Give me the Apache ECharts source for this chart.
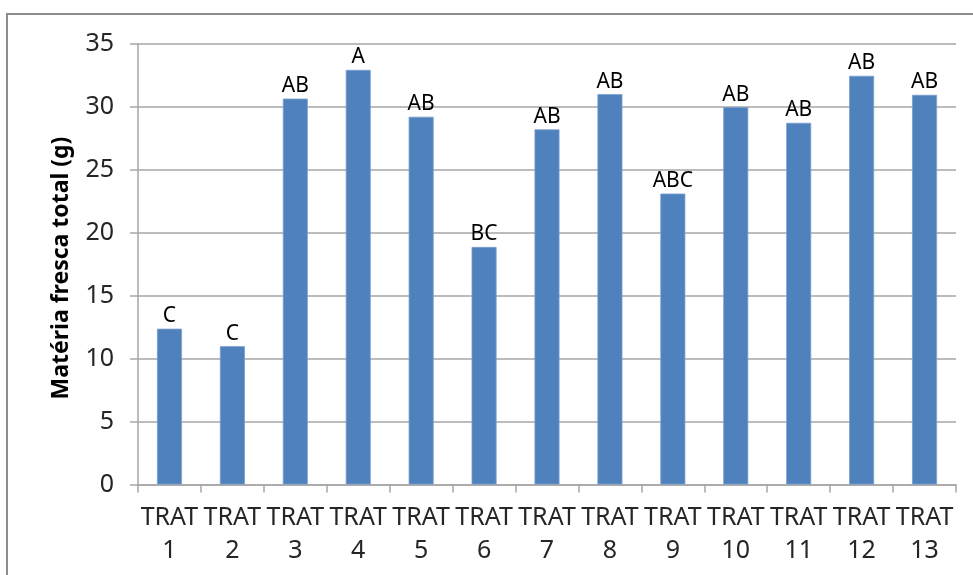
<!DOCTYPE html>
<html>
<head>
<meta charset="utf-8">
<script src="https://cdn.jsdelivr.net/npm/echarts@6/dist/echarts.min.js"></script>
<style>
html,body{margin:0;padding:0;background:#fff;}
#chart{width:973px;height:575px;}
</style>
</head>
<body>
<div id="chart"></div>
<script>
const categories = ['TRAT\n1','TRAT\n2','TRAT\n3','TRAT\n4','TRAT\n5','TRAT\n6','TRAT\n7','TRAT\n8','TRAT\n9','TRAT\n10','TRAT\n11','TRAT\n12','TRAT\n13'];
const values = [12.37, 10.98, 30.64, 32.92, 29.2, 18.86, 28.2, 31.0, 23.1, 29.96, 28.72, 32.45, 30.94];
const letters = ['C','C','AB','A','AB','BC','AB','AB','ABC','AB','AB','AB','AB'];
const yTitle = 'Matéria fresca total (g)';

const chart = echarts.init(document.getElementById('chart'), null, {renderer:'canvas'});
const font = '"Noto Sans", "Open Sans", sans-serif';
chart.setOption({
  animation: false,
  backgroundColor: '#ffffff',
  grid: {left: 138, right: 17, top: 43.7, bottom: 90.5, containLabel: false},
  xAxis: {
    type: 'category',
    data: categories,
    axisLine: {show: true, lineStyle: {color: '#a6a6a6', width: 1.5}},
    axisTick: {show: true, length: 8, lineStyle: {color: '#a6a6a6', width: 1.5}},
    axisLabel: {color: '#262626', fontSize: 25, fontFamily: font, lineHeight: 33, margin: 17, interval: 0}
  },
  yAxis: {
    type: 'value',
    min: 0, max: 35, interval: 5,
    axisLine: {show: true, lineStyle: {color: '#a6a6a6', width: 1.5}},
    axisTick: {show: true, length: 8, lineStyle: {color: '#a6a6a6', width: 1.5}},
    splitLine: {show: true, lineStyle: {color: '#a6a6a6', width: 1.5}},
    axisLabel: {color: '#262626', fontSize: 25, fontFamily: font, margin: 24}
  },
  graphic: [
    {type: 'rect', shape: {x: 7, y: 14, width: 1100, height: 700}, style: {fill: 'none', stroke: '#8c8c8c', lineWidth: 2}, silent: true},
    {type: 'text', x: 61, y: 268, rotation: Math.PI / 2,
     style: {text: yTitle, fill: '#000000', font: 'bold 23px ' + font, textAlign: 'center', textVerticalAlign: 'middle'}}
  ],
  series: [{
    type: 'bar',
    data: values,
    barWidth: 25,
    itemStyle: {color: '#4F81BD', borderColor: '#7aa0cf', borderWidth: 0.8},
    label: {
      show: true, position: 'top', distance: 2,
      formatter: p => letters[p.dataIndex],
      color: '#000000', fontSize: 21, fontFamily: font
    }
  }]
});
</script>
</body>
</html>
